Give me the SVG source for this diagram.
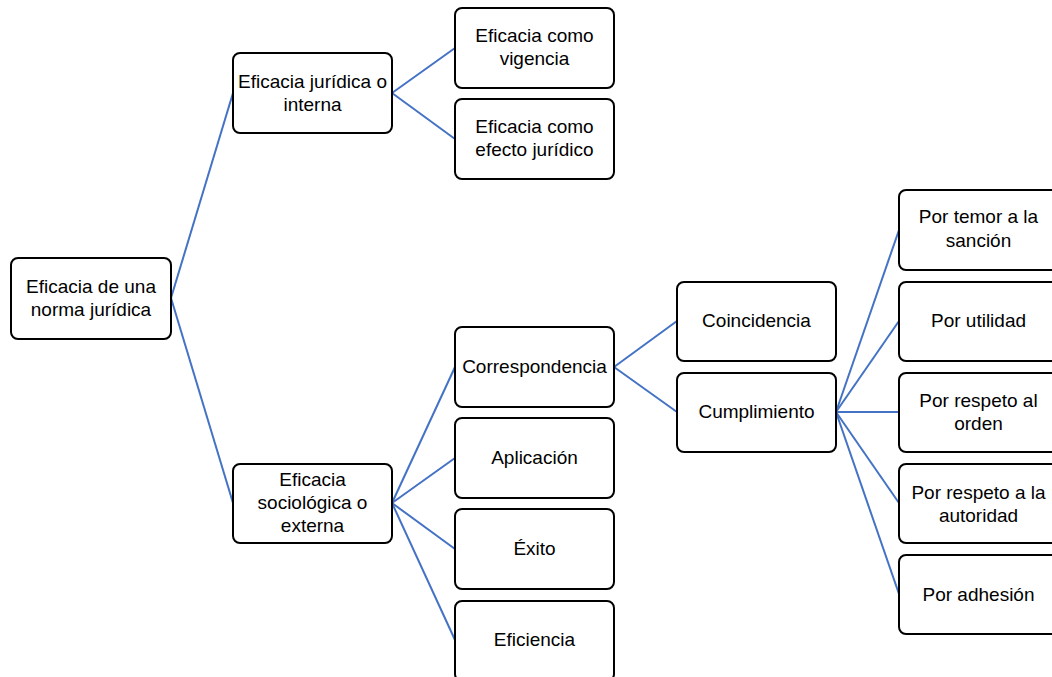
<svg xmlns="http://www.w3.org/2000/svg" width="1052" height="677" viewBox="0 0 1052 677">
<style>
.box{fill:#fff;stroke:#000;stroke-width:2}
.lbl{font-family:"Liberation Sans",Arial,sans-serif;font-size:19px;fill:#000;text-anchor:middle}
.con line{stroke:#4472C4;stroke-width:2}
</style>
<rect width="1052" height="677" fill="#fff"/>
<g class="con" id="connectors">
<line x1="171" y1="298" x2="233" y2="93"/>
<line x1="171" y1="298" x2="233" y2="503"/>
<line x1="392" y1="93" x2="455" y2="48"/>
<line x1="392" y1="93" x2="455" y2="139"/>
<line x1="392" y1="503" x2="455" y2="367"/>
<line x1="392" y1="503" x2="455" y2="458"/>
<line x1="392" y1="503" x2="455" y2="549"/>
<line x1="392" y1="503" x2="455" y2="640"/>
<line x1="614" y1="367" x2="677" y2="321"/>
<line x1="614" y1="367" x2="677" y2="412"/>
<line x1="836" y1="412" x2="899" y2="230"/>
<line x1="836" y1="412" x2="899" y2="321"/>
<line x1="836" y1="412" x2="899" y2="412"/>
<line x1="836" y1="412" x2="899" y2="503"/>
<line x1="836" y1="412" x2="899" y2="594"/>
</g>
<g id="n-root"><rect class="box" x="11" y="258" width="160" height="81" rx="7"/><text class="lbl" x="91" y="293">Eficacia de una</text><text class="lbl" x="91" y="316">norma jurídica</text></g>
<g id="n-juridica"><rect class="box" x="233" y="53" width="159" height="80" rx="7"/><text class="lbl" x="312.5" y="88">Eficacia jurídica o</text><text class="lbl" x="312.5" y="111">interna</text></g>
<g id="n-vigencia"><rect class="box" x="455" y="8" width="159" height="80" rx="7"/><text class="lbl" x="534.5" y="42">Eficacia como</text><text class="lbl" x="534.5" y="65">vigencia</text></g>
<g id="n-efecto"><rect class="box" x="455" y="99" width="159" height="80" rx="7"/><text class="lbl" x="534.5" y="133">Eficacia como</text><text class="lbl" x="534.5" y="156">efecto jurídico</text></g>
<g id="n-sociologica"><rect class="box" x="233" y="464" width="159" height="79" rx="7"/><text class="lbl" x="312.5" y="486">Eficacia</text><text class="lbl" x="312.5" y="509">sociológica o</text><text class="lbl" x="312.5" y="532">externa</text></g>
<g id="n-correspondencia"><rect class="box" x="455" y="327" width="159" height="80" rx="7"/><text class="lbl" x="534.5" y="373">Correspondencia</text></g>
<g id="n-aplicacion"><rect class="box" x="455" y="418" width="159" height="80" rx="7"/><text class="lbl" x="534.5" y="464">Aplicación</text></g>
<g id="n-exito"><rect class="box" x="455" y="509" width="159" height="80" rx="7"/><text class="lbl" x="534.5" y="555">Éxito</text></g>
<g id="n-eficiencia"><rect class="box" x="455" y="601" width="159" height="80" rx="7"/><text class="lbl" x="534.5" y="646">Eficiencia</text></g>
<g id="n-coincidencia"><rect class="box" x="677" y="282" width="159" height="79" rx="7"/><text class="lbl" x="756.5" y="327">Coincidencia</text></g>
<g id="n-cumplimiento"><rect class="box" x="677" y="373" width="159" height="79" rx="7"/><text class="lbl" x="756.5" y="418">Cumplimiento</text></g>
<g id="n-temor"><rect class="box" x="899" y="190" width="159" height="80" rx="7"/><text class="lbl" x="978.5" y="223">Por temor a la</text><text class="lbl" x="978.5" y="247">sanción</text></g>
<g id="n-utilidad"><rect class="box" x="899" y="282" width="159" height="79" rx="7"/><text class="lbl" x="978.5" y="327">Por utilidad</text></g>
<g id="n-orden"><rect class="box" x="899" y="373" width="159" height="79" rx="7"/><text class="lbl" x="978.5" y="407">Por respeto al</text><text class="lbl" x="978.5" y="430">orden</text></g>
<g id="n-autoridad"><rect class="box" x="899" y="464" width="159" height="79" rx="7"/><text class="lbl" x="978.5" y="499">Por respeto a la</text><text class="lbl" x="978.5" y="522">autoridad</text></g>
<g id="n-adhesion"><rect class="box" x="899" y="555" width="159" height="79" rx="7"/><text class="lbl" x="978.5" y="601">Por adhesión</text></g>
</svg>
